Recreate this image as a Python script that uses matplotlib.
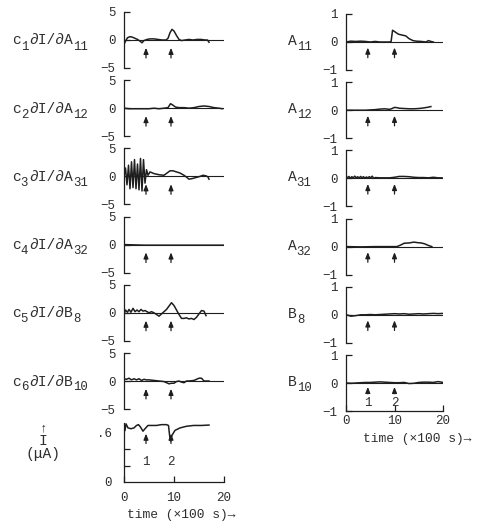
import matplotlib
matplotlib.use("Agg")
import matplotlib.pyplot as plt

plt.rcParams['font.family'] = ['Liberation Mono', 'DejaVu Sans Mono']

INK = '#1e1e1e'
TXT = '#2e2e2e'

# --- data (time in units of 100 s) ---
# labels as (text, is_subscript) pieces
left_labels = [
    [("c", 0), ("1", 1), ("∂I/∂A", 0), ("11", 1)],
    [("c", 0), ("2", 1), ("∂I/∂A", 0), ("12", 1)],
    [("c", 0), ("3", 1), ("∂I/∂A", 0), ("31", 1)],
    [("c", 0), ("4", 1), ("∂I/∂A", 0), ("32", 1)],
    [("c", 0), ("5", 1), ("∂I/∂B", 0), ("8", 1)],
    [("c", 0), ("6", 1), ("∂I/∂B", 0), ("10", 1)],
]
right_labels = [
    [("A", 0), ("11", 1)], [("A", 0), ("12", 1)], [("A", 0), ("31", 1)],
    [("A", 0), ("32", 1)], [("B", 0), ("8", 1)], [("B", 0), ("10", 1)],
]

c1_x = [0, 0.3, 0.7, 1.2, 1.7, 2.2, 2.7, 3.2, 3.6, 4.0, 4.6, 5.2, 6.0, 6.8, 7.6, 8.4, 8.8, 9.2,
        9.6, 10.0, 10.5, 11.0, 11.5, 12.2, 13.0, 13.8, 14.6, 15.4, 16.2, 16.7, 17.0]
c1_y = [-0.8, -0.2, 0.4, 0.6, 0.5, 0.3, 0.1, -0.2, -0.5, -0.1, 0.1, 0.2, 0.2, 0.1, 0.0, 0.0, 0.3, 1.3,
        1.9, 1.6, 0.8, 0.1, -0.1, 0.0, 0.1, 0.0, 0.1, 0.1, 0.0, 0.0, -0.4]

c2_x = [0, 1, 2, 3, 4, 5, 6, 7, 8, 8.8, 9.3, 9.7, 10.3, 11, 12, 13, 14, 15, 16, 17, 18, 19, 19.7]
c2_y = [0, -0.1, -0.1, -0.1, -0.1, -0.1, 0.0, -0.1, 0.0, 0.1, 0.8, 0.6, 0.2, 0.1, 0.1, 0.0, 0.1,
        0.3, 0.4, 0.3, 0.1, 0.0, -0.1]

c3_x = [0, 0.3, 0.6, 0.9, 1.2, 1.5, 1.8, 2.1, 2.4, 2.7, 3.0, 3.3, 3.6, 3.9, 4.2, 4.5, 4.8, 5.2,
        6.0, 7.0, 8.0, 8.6, 9.2, 9.8, 10.5, 11.2, 12.0, 12.6, 13.0, 13.6, 14.4, 15.2, 15.8, 16.4,
        16.8, 17.0]
c3_y = [0.0, 1.5, -1.5, 2.0, -2.2, 2.6, -2.0, 3.0, -2.2, 2.2, -2.4, 3.2, -2.6, 3.0, -1.2, 1.2,
        0.2, 0.8, 0.5, 0.3, 0.2, 0.6, 1.0, 1.0, 0.8, 0.6, 0.2, -0.2, -0.5, -0.4, -0.2, 0.0, 0.2,
        0.1, -0.1, -0.5]

c4_x = [0, 4, 8, 12, 16, 20]
c4_y = [0, -0.1, -0.1, -0.1, -0.1, -0.1]

c5_x = [0, 0.3, 0.7, 1.0, 1.4, 1.8, 2.2, 2.6, 3.0, 3.4, 3.8, 4.2, 4.6, 5.0, 5.5, 6.0, 6.5, 7.0,
        7.5, 8.0, 8.5, 9.0, 9.5, 10.0, 10.5, 11.0, 11.5, 12.0, 12.5, 13.0, 13.5, 14.0, 14.5,
        15.0, 15.5, 16.0, 16.4]
c5_y = [-0.3, 0.5, 0.1, 0.6, 0.1, 0.8, 0.2, 0.5, 0.2, 0.6, 0.3, 0.4, 0.2, 0.0, 0.2, 0.0, -0.3,
        -0.6, -0.2, 0.2, 0.6, 1.2, 1.8, 1.3, 0.5, -0.3, -1.0, -1.0, -0.9, -1.1, -1.0, -1.2, -0.8,
        -0.2, 0.4, 0.3, -0.5]

c6_x = [0, 0.5, 1.0, 1.5, 2.0, 2.5, 3.0, 3.5, 4.0, 4.5, 5.0, 6.0, 7.0, 8.0, 8.5, 9.0, 9.5, 10.0,
        10.5, 11.0, 11.5, 12.0, 12.5, 13.0, 14.0, 14.5, 15.0, 15.5, 16.0, 17.0]
c6_y = [0.4, 0.3, 0.5, 0.2, 0.4, 0.2, 0.4, 0.1, 0.3, 0.2, 0.2, 0.1, 0.0, -0.1, -0.3, -0.5, -0.4,
        -0.4, -0.1, 0.0, -0.2, -0.3, 0.0, 0.0, 0.1, 0.3, 0.5, 0.5, 0.0, 0.0]

cur_x = [0.2, 0.4, 0.8, 1.4, 2.0, 2.5, 2.9, 3.3, 3.8, 4.2, 4.8, 5.5, 6.5, 7.5, 8.5, 8.9, 9.1, 9.3,
         9.6, 10.2, 11.2, 12.5, 13.9, 15.5, 17.0]
cur_y = [0.63, 0.71, 0.66, 0.65, 0.66, 0.69, 0.70, 0.67, 0.62, 0.65, 0.69, 0.69, 0.69, 0.70, 0.70,
         0.69, 0.58, 0.50, 0.57, 0.63, 0.66, 0.68, 0.69, 0.69, 0.695]

a11_x = [0, 1, 2, 3, 4, 5, 6, 7, 8, 9, 9.3, 9.6, 10.2, 10.8, 11.5, 12.3, 13.0, 13.8, 14.5, 15.5,
         16.5, 17.0, 17.5, 18.0]
a11_y = [0.0, 0.03, 0.02, 0.03, 0.02, 0.0, 0.02, 0.0, 0.0, 0.0, 0.02, 0.42, 0.35, 0.28, 0.25, 0.22,
         0.12, 0.05, 0.03, 0.02, 0.0, 0.05, 0.02, 0.0]

a12_x = [0, 2, 4, 6, 7, 8, 9, 9.5, 10, 10.5, 11, 12, 13, 14, 15, 16, 17, 17.5]
a12_y = [0, 0, 0, 0.02, 0.04, 0.05, 0.03, 0.06, 0.1, 0.09, 0.07, 0.06, 0.05, 0.05, 0.06, 0.08,
         0.11, 0.13]

a31_x = [0, 0.3, 0.6, 0.9, 1.2, 1.5, 1.8, 2.1, 2.4, 2.7, 3.0, 3.3, 3.6, 3.9, 4.2, 4.5, 4.8, 5.1,
         5.4, 5.7, 6.0, 7, 8, 9, 10, 11, 12, 13, 14, 15, 16, 17, 18, 19, 19.8]
a31_y = [0.08, 0.02, 0.07, 0.01, 0.06, 0.02, 0.08, 0.02, 0.06, 0.01, 0.07, 0.02, 0.06, 0.01, 0.05,
         0.02, 0.06, 0.02, 0.08, 0.0, 0.03, 0.02, 0.02, 0.02, 0.04, 0.07, 0.07, 0.06, 0.04, 0.03,
         0.03, 0.02, 0.04, 0.02, 0.02]

a32_x = [0, 3, 6, 9, 10.5, 11.2, 12, 13, 14, 14.8, 15.5, 16.2, 17, 17.7]
a32_y = [0, -0.01, 0, 0, 0.0, 0.05, 0.12, 0.13, 0.16, 0.14, 0.13, 0.1, 0.04, 0.0]

b8_x = [0, 0.5, 1, 1.5, 2, 3, 4, 5, 6, 7, 8, 9, 10, 11, 12, 13, 14, 15, 16, 17, 18, 19, 20]
b8_y = [0.0, -0.02, -0.05, -0.04, -0.03, 0.0, 0.0, 0.01, 0.0, 0.01, 0.02, 0.03, 0.04, 0.03, 0.04,
        0.02, 0.03, 0.04, 0.03, 0.04, 0.05, 0.04, 0.05]

b10_x = [0, 1, 2, 3, 4, 5, 6, 7, 8, 9, 10, 11, 12, 13, 14, 15, 16, 17, 18, 19, 20]
b10_y = [0.0, -0.01, 0.0, 0.01, 0.02, 0.02, 0.03, 0.04, 0.03, 0.02, 0.01, 0.01, 0.02, -0.02, -0.01,
         0.02, 0.03, 0.03, 0.02, 0.05, 0.02]

left_series = [(c1_x, c1_y), (c2_x, c2_y), (c3_x, c3_y), (c4_x, c4_y), (c5_x, c5_y), (c6_x, c6_y)]
right_series = [(a11_x, a11_y), (a12_x, a12_y), (a31_x, a31_y), (a32_x, a32_y), (b8_x, b8_y),
                (b10_x, b10_y)]

# perturbation times (arrows 1 and 2)
events_left = [4.4, 9.4]
events_right = [4.5, 10.0]
event_names = ["1", "2"]

W, H = 480, 523
fig = plt.figure(figsize=(W / 100, H / 100), dpi=100)
fig.patch.set_facecolor('white')
renderer = fig.canvas.get_renderer()

TICK_FS = 9
LABEL_FS = 10.5


def add_ax(left, top, w, h):
    return fig.add_axes([left / W, 1 - (top + h) / H, w / W, h / H])


def style(ax):
    for s in ['top', 'right', 'bottom']:
        ax.spines[s].set_visible(False)
    ax.spines['left'].set_color(INK)
    ax.spines['left'].set_linewidth(0.9)
    ax.set_xticks([])
    ax.tick_params(axis='y', direction='in', length=4, width=0.9, color=INK,
                   labelsize=TICK_FS, labelcolor=TXT, pad=6)
    ax.set_facecolor('none')


def arrow(ax, x, y0, y1):
    ax.annotate('', xy=(x, y1), xytext=(x, y0),
                arrowprops=dict(arrowstyle='-|>,head_length=0.35,head_width=0.14',
                                lw=0.9, color=INK, shrinkA=0, shrinkB=0))


def rich_label(x_px, base_px, parts):
    # main text on a baseline, subscripts a bit smaller and lower
    x = x_px
    for txt, sub in parts:
        fs = LABEL_FS * 0.85 if sub else LABEL_FS
        y = base_px + (5 if sub else 0)
        t = fig.text(x / W, 1 - y / H, txt, ha='left', va='baseline', fontsize=fs, color=TXT)
        x += t.get_window_extent(renderer).width + (1 if sub else 0)


PITCH = 68.2

# --- left column: scaled sensitivities ---
for k, ((x, y), lab) in enumerate(zip(left_series, left_labels)):
    top = 12 + PITCH * k
    ax = add_ax(124, top, 100, 56)
    style(ax)
    ax.set_xlim(0, 20)
    ax.set_ylim(-5, 5)
    ax.set_yticks([-5, 0, 5])
    ax.set_yticklabels(['−5', '0', '5'])
    ax.plot([0, 19.7], [0, 0], color=INK, lw=0.8)
    ax.plot(x, y, color=INK, lw=1.1)
    for ev in events_left:
        arrow(ax, ev, -3.2, -1.4)
    rich_label(12, top + 28 + 4.5, lab)

# --- current trace ---
ax = add_ax(124, 423, 100, 59)
for s in ['top', 'right']:
    ax.spines[s].set_visible(False)
for s in ['left', 'bottom']:
    ax.spines[s].set_color(INK)
    ax.spines[s].set_linewidth(0.9)
ax.set_facecolor('none')
ax.set_xlim(0, 20)
ax.set_ylim(0, 0.72)
ax.plot(cur_x, cur_y, color=INK, lw=1.1)
ax.set_xticks([0, 10, 20])
ax.tick_params(axis='x', direction='in', length=4, width=0.9, color=INK,
               labelsize=TICK_FS, labelcolor=TXT, pad=7)
ax.set_yticks([0, 0.6])
ax.set_yticklabels(['0', '.6'])
ax.set_yticks([0.2, 0.4], minor=True)
ax.tick_params(axis='y', which='major', length=0, labelsize=TICK_FS, labelcolor=TXT, pad=9)
ax.tick_params(axis='y', which='minor', direction='in', length=4, width=0.9, color=INK)
for ev, name in zip(events_left, event_names):
    arrow(ax, ev, 0.47, 0.59)
    ax.text(ev, 0.25, name, ha='center', va='center', fontsize=TICK_FS, color=TXT)
fig.text(181 / W, 1 - 515 / H, "time (×100 s)→", ha='center', va='center', fontsize=9.3, color=TXT)
fig.text(43 / W, 1 - 428 / H, "↑", ha='center', va='center', fontsize=9, color=TXT)
fig.text(43 / W, 1 - 441 / H, "I", ha='center', va='center', fontsize=LABEL_FS, color=TXT)
fig.text(43 / W, 1 - 454 / H, "(μA)", ha='center', va='center', fontsize=LABEL_FS, color=TXT)

# --- right column: parameter estimates ---
for k, ((x, y), lab) in enumerate(zip(right_series, right_labels)):
    top = 14 + PITCH * k
    ax = add_ax(346, top, 97, 56)
    style(ax)
    ax.set_xlim(0, 20)
    ax.set_ylim(-1, 1)
    ax.set_yticks([-1, 0, 1])
    ax.set_yticklabels(['−1', '0', '1'])
    ax.plot([0, 20], [0, 0], color=INK, lw=0.8)
    ax.plot(x, y, color=INK, lw=1.1)
    rich_label(288, top + 28 + 3, lab)
    if k < 5:
        for ev in events_right:
            arrow(ax, ev, -0.56, -0.2)
    else:
        ax.spines['bottom'].set_visible(True)
        ax.spines['bottom'].set_color(INK)
        ax.spines['bottom'].set_linewidth(0.9)
        ax.set_xticks([0, 10, 20])
        ax.tick_params(axis='x', direction='in', length=4, width=0.9, color=INK,
                       labelsize=TICK_FS, labelcolor=TXT, pad=3)
        for ev, name in zip(events_right, event_names):
            arrow(ax, ev, -0.38, -0.14)
            ax.text(ev, -0.72, name, ha='center', va='center', fontsize=TICK_FS, color=TXT)

fig.text(417 / W, 1 - 439 / H, "time (×100 s)→", ha='center', va='center', fontsize=9.3, color=TXT)

fig.savefig("out.png", dpi=100, facecolor='white')
